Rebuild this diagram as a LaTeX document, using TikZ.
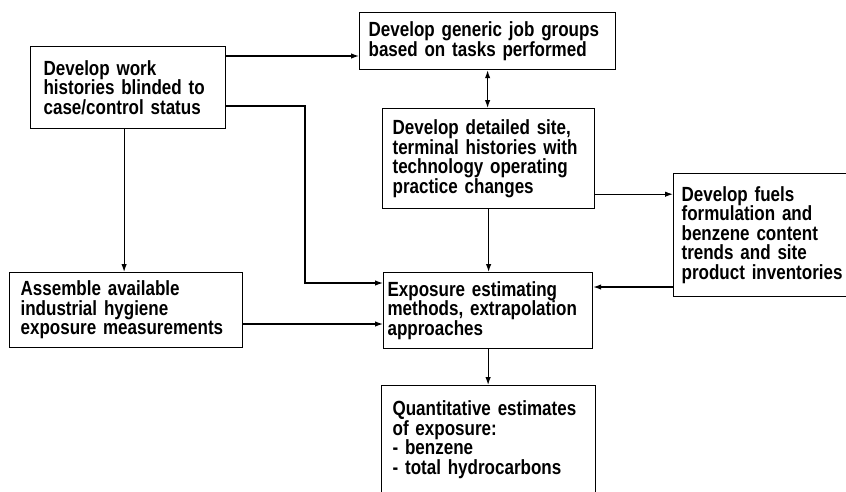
\documentclass[tikz,border=0pt]{standalone}
\usepackage{fontspec}
\setmainfont[FakeStretch=0.83]{Liberation Sans Bold}
\usepackage{tikz}
\usetikzlibrary{arrows.meta}
\usetikzlibrary{calc}

\begin{document}
\begin{tikzpicture}[x=1pt,y=-1pt,line width=1.2pt,
  stage/.style={draw,anchor=north west,align=left,inner ysep=0pt,
    font=\fontsize{20.5}{19.5}\selectfont},
  tip/.style={-{Latex[length=8pt,width=5.5pt]}}]
  \useasboundingbox (0,0) rectangle (846,491);
%% boxes
  \node[stage,inner xsep=13pt,text width=169pt,minimum height=82pt] (work) at (30,46)
    {Develop work\\histories blinded to\\case/control status};
  \node[stage,inner xsep=9pt,text width=238pt,minimum height=57pt] (jobs) at (359,12)
    {Develop generic job groups\\based on tasks performed};
  \node[stage,inner xsep=10pt,text width=192pt,minimum height=100pt] (site) at (382,108)
    {Develop detailed site,\\terminal histories with\\technology operating\\practice changes};
  \node[stage,inner xsep=8pt,text width=167pt,minimum height=123pt] (fuels) at (673,173)
    {Develop fuels\\formulation and\\benzene content\\trends and site\\product inventories};
  \node[stage,inner xsep=11pt,text width=211pt,minimum height=75pt] (hygiene) at (9,272)
    {Assemble available\\industrial hygiene\\exposure measurements};
  \node[stage,inner xsep=4pt,text width=201pt,minimum height=76pt] (method) at (383,272)
    {Exposure estimating\\methods, extrapolation\\approaches};
  \node[stage,inner xsep=11pt,text width=192pt,minimum height=108pt] (quant) at (381,385)
    {Quantitative estimates\\of exposure:\\- benzene\\- total hydrocarbons};
%% connectors
  \draw[tip] ([yshift=-10pt]work.north east) -- ([yshift=-10pt]work.north east -| jobs.west);
  \draw[tip] ([yshift=-60pt]work.north east) -| ([xshift=-78pt,yshift=-11pt]method.north west)
    -- ([yshift=-11pt]method.north west);
  \draw[tip] ([xshift=-4pt]work.south) -- ([xshift=-4pt]work.south |- hygiene.north);
  \draw[{Latex[length=8pt,width=5.5pt]}-{Latex[length=8pt,width=5.5pt]}] (jobs.south) -- (jobs.south |- site.north);
  \draw[tip] ([yshift=15pt]site.south east) -- ([yshift=15pt]site.south east -| fuels.west);
  \draw[tip] (site.south) -- (site.south |- method.north);
  \draw[tip] ([yshift=-114pt]fuels.north west) -- ([yshift=-114pt]fuels.north west -| method.east);
  \draw[tip] ([yshift=-52pt]hygiene.north east) -- ([yshift=-52pt]hygiene.north east -| method.west);
  \draw[tip] (method.south) -- (method.south |- quant.north);
\end{tikzpicture}
\end{document}
